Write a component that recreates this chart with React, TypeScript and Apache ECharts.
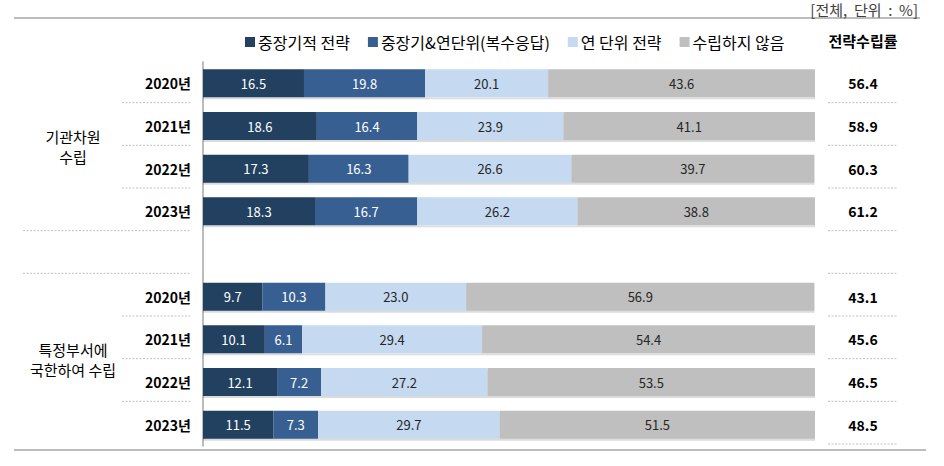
import React, { useEffect, useRef } from "react";
import * as echarts from "echarts";

const categories = ["2020년", "2021년", "2022년", "2023년", "", "2020년", "2021년", "2022년", "2023년"];
const seriesNames = ["중장기적 전략", "중장기&연단위(복수응답)", "연 단위 전략", "수립하지 않음"];
const longTerm = [16.5, 18.6, 17.3, 18.3, null, 9.7, 10.1, 12.1, 11.5];
const mixed = [19.8, 16.4, 16.3, 16.7, null, 10.3, 6.1, 7.2, 7.3];
const yearly = [20.1, 23.9, 26.6, 26.2, null, 23.0, 29.4, 27.2, 29.7];
const none = [43.6, 41.1, 39.7, 38.8, null, 56.9, 54.4, 53.5, 51.5];
const rates = ["56.4", "58.9", "60.3", "61.2", "", "43.1", "45.6", "46.5", "48.5"];
const groupLabels = ["기관차원\n수립", "특정부서에\n국한하여 수립"];
const colors = ["#243F60", "#375F92", "#C5D9F1", "#BFBFBF"];
const labelColors = ["#FFFFFF", "#FFFFFF", "#262626", "#262626"];

const FONT = "'Noto Sans CJK KR', 'Noto Sans', sans-serif";

export default function App() {
  const ref = useRef<HTMLDivElement>(null);
  useEffect(() => {
    if (!ref.current) return;
    const chart = echarts.init(ref.current, null, { renderer: "svg" });
    const H = 466;
    const gridTop = 62, gridBottom = 20, gridLeft = 203, gridRight = 129;
    const band = (H - gridTop - gridBottom) / categories.length;
    const dataSets = [longTerm, mixed, yearly, none];

    const series: any[] = dataSets.map((d, i) => ({
      name: seriesNames[i],
      type: "bar",
      stack: "total",
      data: d,
      barWidth: 28,
      itemStyle: { color: colors[i], shadowColor: "rgba(0,0,0,0.14)", shadowOffsetY: 2, shadowBlur: 0 },
      label: {
        show: true,
        position: "inside",
        color: labelColors[i],
        fontFamily: FONT,
        fontSize: 13,
        formatter: (p: any) => (p.value == null ? "" : Number(p.value).toFixed(1)),
      },
    }));

    const graphics: any[] = [];
    graphics.push({ type: "line", shape: { x1: 14, y1: 18, x2: 920, y2: 18 }, style: { stroke: "#A6A6A6", lineWidth: 1.5 } });
    graphics.push({ type: "line", shape: { x1: 14, y1: 450, x2: 926, y2: 450 }, style: { stroke: "#A6A6A6", lineWidth: 1.5 } });
    graphics.push({
      type: "text", x: 918, y: 9,
      style: { text: "[전체,  단위  :  %]", font: `15px ${FONT}`, fill: "#404040", align: "right", verticalAlign: "middle" },
    });
    graphics.push({
      type: "text", x: 863, y: 40,
      style: { text: "전략수립률", font: `bold 15px ${FONT}`, fill: "#000", align: "center", verticalAlign: "middle" },
    });
    const dash = { stroke: "#BFBFBF", lineWidth: 1, lineDash: [2, 1.5] };
    for (let i = 0; i < categories.length; i++) {
      const y = gridTop + band * (i + 1) - 2;
      graphics.push({ type: "line", shape: { x1: 828, y1: y, x2: 897, y2: y }, style: dash });
      if (i === 8) continue;
      const long = i === 3 || i === 4;
      graphics.push({ type: "line", shape: { x1: long ? 23 : 122, y1: y, x2: 191, y2: y }, style: dash });
    }
    groupLabels.forEach((t, g) => {
      const cy = gridTop + band * (g === 0 ? 2 : 7) - 1;
      graphics.push({
        type: "text", x: 73, y: cy,
        style: { text: t, font: `15px ${FONT}`, fill: "#000", align: "center", verticalAlign: "middle", lineHeight: 20 },
      });
    });

    chart.setOption({
      animation: false,
      textStyle: { fontFamily: FONT },
      legend: {
        data: seriesNames,
        left: 240,
        top: 29,
        itemWidth: 10,
        itemHeight: 10,
        itemGap: 18,
        icon: "rect",
        textStyle: { fontFamily: FONT, fontSize: 16, color: "#000", padding: [0, 0, 0, -2] },
      },
      grid: { left: gridLeft, right: gridRight, top: gridTop, bottom: gridBottom, containLabel: false },
      xAxis: { type: "value", min: 0, max: 100, show: false },
      yAxis: [
        {
          type: "category",
          data: categories,
          inverse: true,
          axisLine: { show: true, lineStyle: { color: "#A6A6A6", width: 1.5 } },
          axisTick: { show: false },
          axisLabel: { margin: 12, fontFamily: FONT, fontSize: 14, fontWeight: "bold", color: "#000" },
        },
        {
          type: "category",
          data: rates,
          inverse: true,
          position: "right",
          axisLine: { show: false },
          axisTick: { show: false },
          axisLabel: { margin: 48, align: "center", fontFamily: FONT, fontSize: 14, fontWeight: "bold", color: "#000" },
        },
      ],
      series,
      graphic: graphics,
    });
    return () => chart.dispose();
  }, []);
  return <div ref={ref} style={{ position: "absolute", left: 0, top: 0, width: 944, height: 466 }} />;
}
